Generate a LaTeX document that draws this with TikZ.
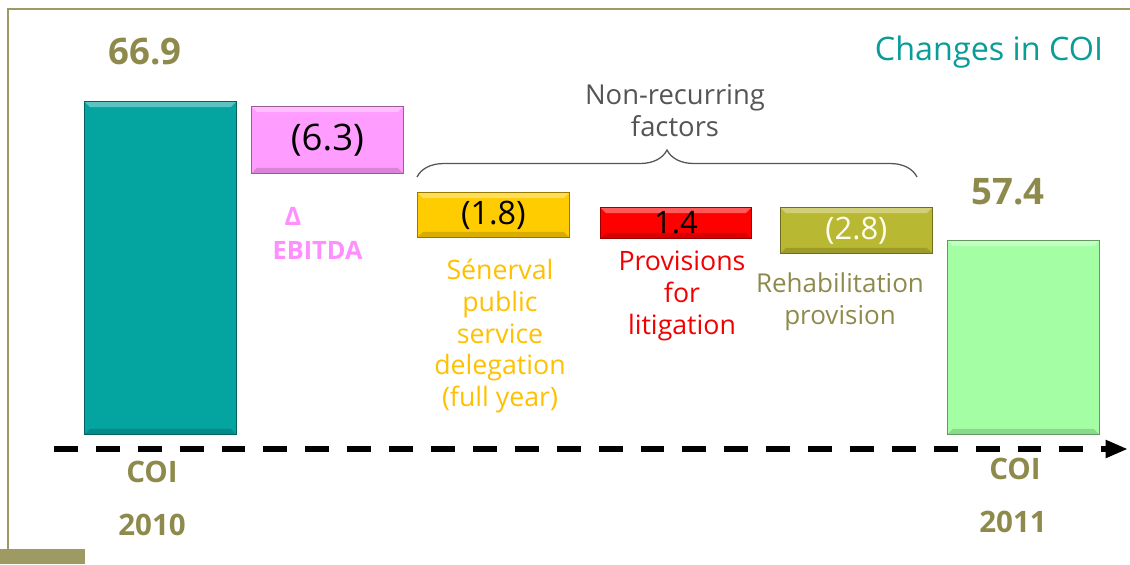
\documentclass[tikz,border=0pt]{standalone}
\usepackage{fontspec}
\setmainfont{Open Sans}
\usetikzlibrary{decorations.pathreplacing}
\usetikzlibrary{arrows.meta}

\definecolor{framecol}{HTML}{9D9A64}
\definecolor{olivetxt}{HTML}{8E8A4C}
\definecolor{tealbar}{HTML}{04A4A1}
\definecolor{tealtxt}{HTML}{0A9C98}
\definecolor{pinkbar}{HTML}{FF9CFF}
\definecolor{pinktxt}{HTML}{FF8EFF}
\definecolor{yellowbar}{HTML}{FFCC00}
\definecolor{yellowtxt}{HTML}{FFC000}
\definecolor{redbar}{HTML}{FF0000}
\definecolor{redtxt}{HTML}{F20000}
\definecolor{olivebar}{HTML}{B9B832}
\definecolor{greenbar}{HTML}{A4FFA4}
\definecolor{graytxt}{HTML}{555555}

\begin{document}
\begin{tikzpicture}[y=-1cm,
  bar/.style={draw=#1!60!black, fill=#1, line width=0.6pt, anchor=north west,
    inner sep=0pt, minimum width=3.8cm,
    path picture={
      \fill[white, opacity=0.35] (path picture bounding box.north west) -- (path picture bounding box.north east)
        -- ([xshift=-4pt,yshift=-4pt]path picture bounding box.north east) -- ([xshift=4pt,yshift=-4pt]path picture bounding box.north west) -- cycle;
      \fill[black, opacity=0.15] (path picture bounding box.south west) -- (path picture bounding box.south east)
        -- ([xshift=-4pt,yshift=4pt]path picture bounding box.south east) -- ([xshift=4pt,yshift=4pt]path picture bounding box.south west) -- cycle;
    }},
  total/.style={text=olivetxt, font=\fontsize{26}{30}\selectfont\bfseries},
  yearlbl/.style={text=olivetxt, font=\fontsize{21}{25}\selectfont\bfseries},
  factor/.style={align=center, font=\fontsize{#1}{22.7}\selectfont},
  axisline/.style={line width=4.3pt, dash pattern=on 17pt off 12.8pt, -{Triangle[length=16pt,width=12pt]}}]
\useasboundingbox (0,0) rectangle (28.25,14.1);

% frame
\draw[framecol, line width=1pt] (0.2,14.1) -- (0.2,0.225) -- (28.25,0.225);
\fill[framecol] (0,13.725) rectangle (2.125,14.1);

\node[tealtxt, font=\fontsize{23}{27}\selectfont] (title) at (24.725,1.3) {Changes in COI};

% bars
\node[bar=tealbar, minimum height=8.325cm] (coi10) at (2.1,2.525) {};
\node[bar=pinkbar, minimum height=1.675cm, font=\fontsize{26}{30}\selectfont] (ebitda) at (6.275,2.65) {(6.3)};
\node[bar=yellowbar, minimum height=1.125cm, font=\fontsize{23}{27}\selectfont] (senerval) at (10.425,4.8) {(1.8)};
\node[bar=redbar, minimum width=3.775cm, minimum height=0.775cm, font=\fontsize{22}{26}\selectfont] (litig) at (15.0,5.175) {1.4};
\node[bar=olivebar, minimum height=1.15cm, text=white!95!yellow, font=\fontsize{22}{26}\selectfont] (rehab) at (19.5,5.175) {(2.8)};
\node[bar=greenbar, minimum height=4.85cm] (coi11) at (23.675,6.0) {};

\node[total] (val10) at (3.625,1.3) {66.9};
\node[total] (val11) at (25.2,4.79) {57.4};

% labels
\node[pinktxt, font=\fontsize{18}{22}\selectfont\bfseries] (delta) at (7.325,5.41) {Δ};
\node[pinktxt, font=\fontsize{18}{22}\selectfont\bfseries] (ebitdalbl) at (7.94,6.25) {EBITDA};
\node[factor=19, yellowtxt] (senlbl) at (12.5,8.4) {Sénerval\\public\\service\\delegation\\(full year)};
\node[factor=19, redtxt] (litlbl) at (17.05,7.4) {Provisions\\for\\litigation};
\node[factor=18.5, olivetxt] (rehablbl) at (21.0,7.55) {Rehabilitation\\provision};

% non-recurring brace
\coordinate (bracel) at (10.425,4.425);
\coordinate (bracer) at (22.925,4.425);
\draw[graytxt, line width=0.9pt, decorate, decoration={brace, amplitude=0.675cm}] (bracel) -- (bracer);
\node[factor=19.5, graytxt, text depth=0pt] (nonrec) at (16.875,2.75) {Non-recurring\\factors};

% axis
\coordinate (axstart) at (1.35,11.225);
\coordinate (axend) at (28.2,11.225);
\draw[axisline] (axstart) -- (axend);

\node[yearlbl] (coi10lbl) at (3.8,11.8) {COI};
\node[yearlbl] (yr10) at (3.8,13.125) {2010};
\node[yearlbl] (coi11lbl) at (25.375,11.725) {COI};
\node[yearlbl] (yr11) at (25.325,13.05) {2011};
\end{tikzpicture}
\end{document}
